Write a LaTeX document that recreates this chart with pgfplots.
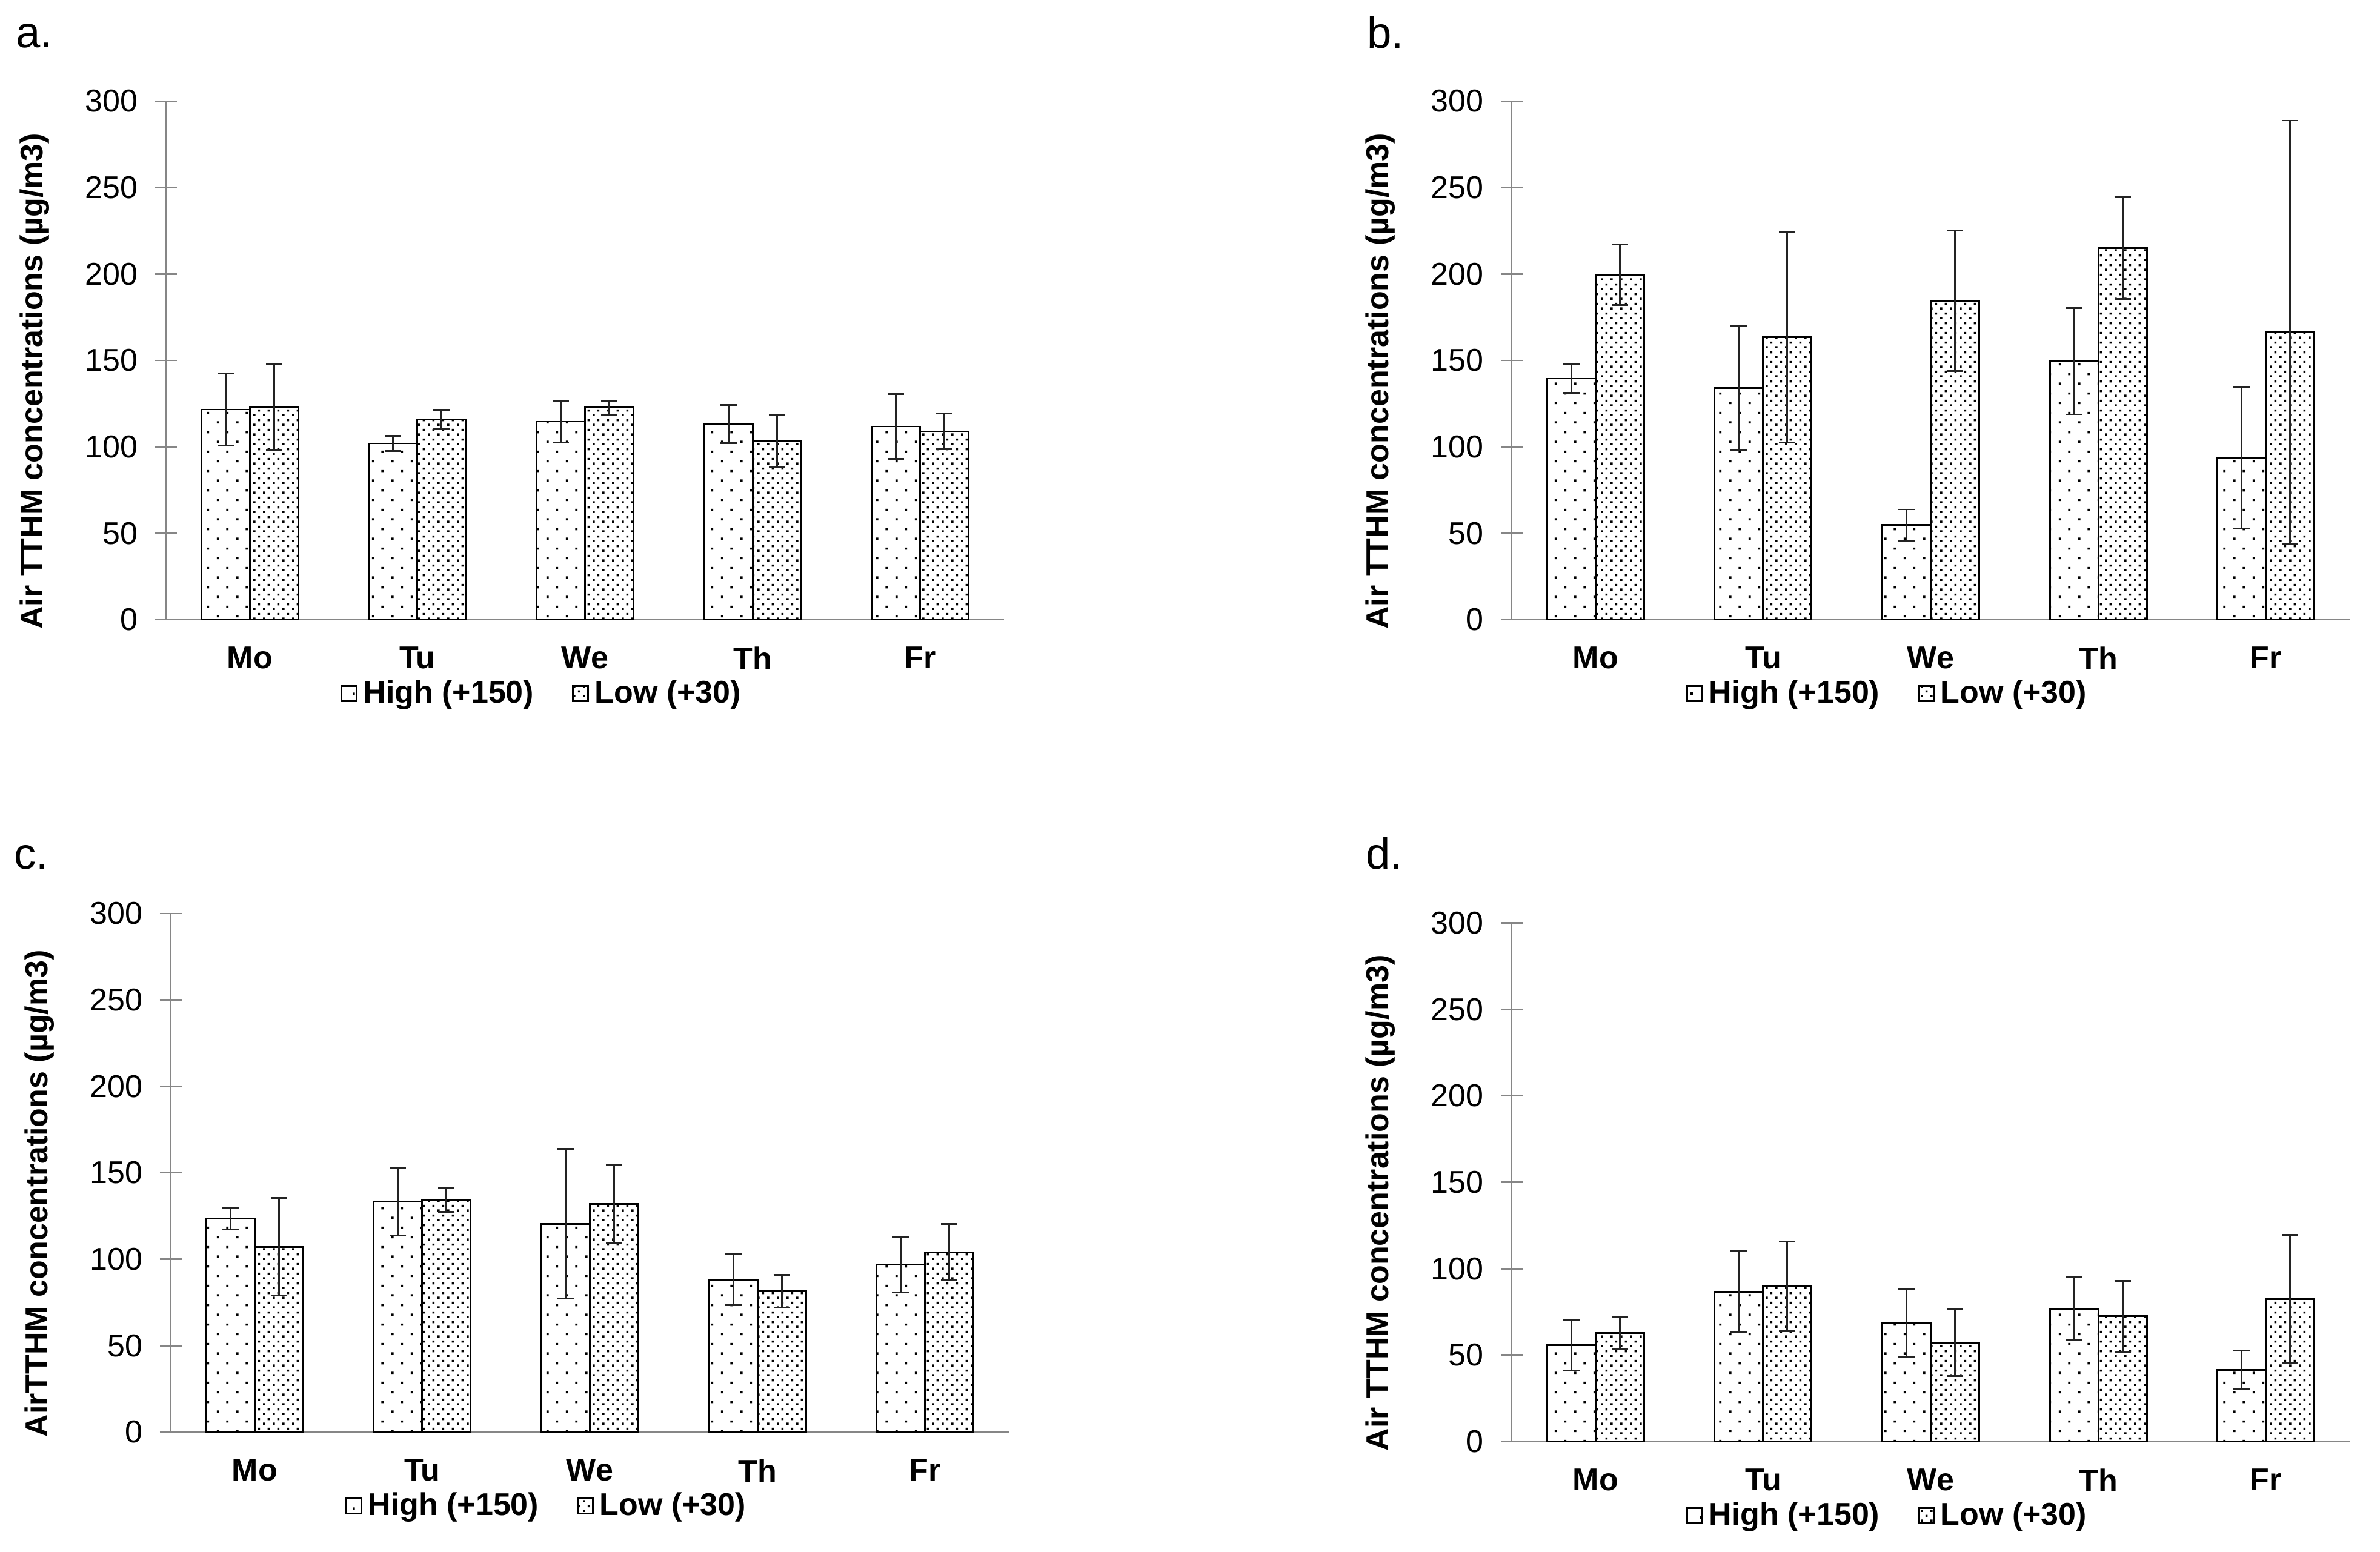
\documentclass[border=0pt]{standalone}
\usepackage{fontspec}
\setmainfont{Liberation Sans}
\usepackage{pgfplots}
\pgfplotsset{compat=1.18}
\usetikzlibrary{patterns}

\definecolor{axisgray}{RGB}{134,134,134}
\definecolor{errgray}{RGB}{35,35,35}

% dot fills of the two series (1px = 0.2pt)
\pgfdeclarepatternformonly{sparse dots}{\pgfqpoint{0pt}{0pt}}{\pgfqpoint{6.4pt}{6.4pt}}{\pgfqpoint{6.4pt}{6.4pt}}{%
  \pgfpathrectangle{\pgfqpoint{1.23pt}{1.23pt}}{\pgfqpoint{0.74pt}{0.74pt}}%
  \pgfpathrectangle{\pgfqpoint{4.43pt}{4.43pt}}{\pgfqpoint{0.74pt}{0.74pt}}%
  \pgfusepath{fill}}
\pgfdeclarepatternformonly{dense dots}{\pgfqpoint{0pt}{0pt}}{\pgfqpoint{3.2pt}{3.2pt}}{\pgfqpoint{3.2pt}{3.2pt}}{%
  \pgfpathrectangle{\pgfqpoint{0.43pt}{0.43pt}}{\pgfqpoint{0.74pt}{0.74pt}}%
  \pgfpathrectangle{\pgfqpoint{2.03pt}{2.03pt}}{\pgfqpoint{0.74pt}{0.74pt}}%
  \pgfusepath{fill}}

\newcommand{\fnt}{\fontsize{10.4}{12}\selectfont}

\pgfplotsset{
  panel/.style={
    width=276.6pt, height=171.2pt, scale only axis,
    anchor=south west,
    ybar=0pt, bar width=16pt,
    xmin=-0.5, xmax=4.5, ymin=0, ymax=300,
    xtick={0,...,4}, xticklabels={Mo,Tu,We,Th,Fr},
    ytick={0,50,...,300},
    axis x line*=bottom, axis y line*=left,
    axis line style={draw=axisgray, line width=0.55pt, -},
    x tick style={draw=none},
    y tick style={draw=axisgray, line width=0.55pt},
    tick align=center, major tick length=7.2pt,
    /pgf/number format/assume math mode=true,
    yticklabel style={font=\fnt, anchor=east, inner sep=0pt, xshift=-5.6pt},
    xticklabel style={font=\fnt\bfseries, anchor=north, inner sep=0pt, yshift=-5.2pt},
    every axis y label/.style={at={(axis description cs:-0.157,0.46)}, rotate=90,
      anchor=center, font=\fnt\bfseries},
    legend columns=2,
    legend style={draw=none, fill=none, at={(0.208,-0.143)}, anchor=west,
      inner sep=0pt, outer sep=0pt, font=\fnt\bfseries,
      nodes={inner sep=2pt},
      /tikz/every even column/.append style={column sep=10.5pt}},
    legend image code/.code={\draw[#1] (0pt,-2.5pt) rectangle (5pt,2.5pt);},
  },
  high/.style={draw=black, line width=0.58pt, pattern=sparse dots,
    error bars/.cd, y dir=both, y explicit,
    error bar style={draw=errgray, line width=0.58pt},
    error mark options={rotate=90, mark size=2.7pt, line width=0.58pt, draw=errgray}},
  low/.style={draw=black, line width=0.58pt, pattern=dense dots,
    error bars/.cd, y dir=both, y explicit,
    error bar style={draw=errgray, line width=0.58pt},
    error mark options={rotate=90, mark size=2.7pt, line width=0.58pt, draw=errgray}},
}

\begin{document}
\begin{tikzpicture}
\useasboundingbox (0,0) rectangle (785.6pt,512.2pt);

\node[anchor=base west, font=\fontsize{14.5}{16}\selectfont, inner sep=0pt] at (5pt,496.4pt) {a.};
\node[anchor=base west, font=\fontsize{14.5}{16}\selectfont, inner sep=0pt] at (451pt,496.2pt) {b.};
\node[anchor=base west, font=\fontsize{14.5}{16}\selectfont, inner sep=0pt] at (4.4pt,225.2pt) {c.};
\node[anchor=base west, font=\fontsize{14.5}{16}\selectfont, inner sep=0pt] at (450.6pt,225.2pt) {d.};

% a.
\begin{axis}[panel, at={(54.8pt,307.6pt)}, ylabel={Air TTHM concentrations (µg/m3)}]
\addplot[high] coordinates {(0,121.6) +- (0,21.0) (1,102.0) +- (0,4.3) (2,114.6) +- (0,12.2) (3,113.2) +- (0,11.0) (4,111.8) +- (0,18.7)};
\addplot[low] coordinates {(0,123.0) +- (0,25.0) (1,115.7) +- (0,5.6) (2,122.7) +- (0,4.0) (3,103.4) +- (0,15.1) (4,109.0) +- (0,10.5)};
\legend{High (+150), Low (+30)}
\end{axis}

% b.
\begin{axis}[panel, at={(499pt,307.6pt)}, ylabel={Air TTHM concentrations (µg/m3)}]
\addplot[high] coordinates {(0,139.5) +- (0,8.4) (1,134.2) +- (0,36.0) (2,54.8) +- (0,9.0) (3,149.6) +- (0,30.8) (4,93.7) +- (0,41.0)};
\addplot[low] coordinates {(0,199.6) +- (0,17.5) (1,163.5) +- (0,61.0) (2,184.5) +- (0,40.5) (3,215.0) +- (0,29.5) (4,166.3) +- (0,122.5)};
\legend{High (+150), Low (+30)}
\end{axis}

% c.
\begin{axis}[panel, at={(56.4pt,39.4pt)}, ylabel={AirTTHM concentrations (µg/m3)}]
\addplot[high] coordinates {(0,123.5) +- (0,6.2) (1,133.5) +- (0,19.6) (2,120.5) +- (0,43.3) (3,88.3) +- (0,14.8) (4,96.9) +- (0,16.0)};
\addplot[low] coordinates {(0,107.2) +- (0,28.2) (1,134.3) +- (0,6.8) (2,131.9) +- (0,22.5) (3,81.5) +- (0,9.3) (4,104.0) +- (0,16.3)};
\legend{High (+150), Low (+30)}
\end{axis}

% d.
\begin{axis}[panel, at={(499pt,36.3pt)}, ylabel={Air TTHM concentrations (µg/m3)}]
\addplot[high] coordinates {(0,55.8) +- (0,14.8) (1,86.7) +- (0,23.2) (2,68.3) +- (0,19.7) (3,76.7) +- (0,18.3) (4,41.5) +- (0,11.2)};
\addplot[low] coordinates {(0,62.6) +- (0,9.3) (1,89.7) +- (0,26.0) (2,57.2) +- (0,19.5) (3,72.4) +- (0,20.5) (4,82.4) +- (0,37.2)};
\legend{High (+150), Low (+30)}
\end{axis}
\end{tikzpicture}
\end{document}
